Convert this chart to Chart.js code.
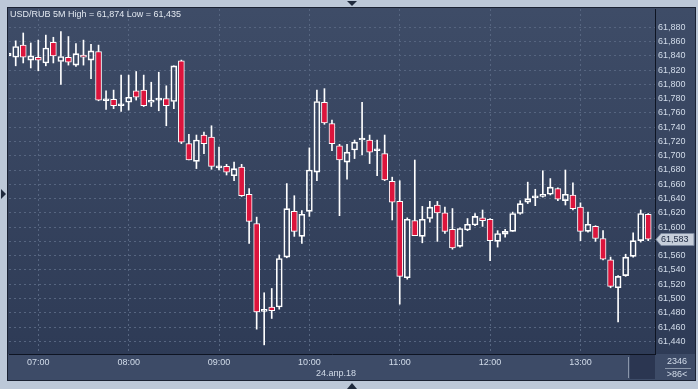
<!DOCTYPE html>
<html>
<head>
<meta charset="utf-8">
<script src="https://cdn.jsdelivr.net/npm/chart.js@4.4.1/dist/chart.umd.min.js"></script>
<style>
html, body { margin: 0; padding: 0; background: #bcc8d8; }
canvas { display: block; }
</style>
</head>
<body>
<canvas id="usdrub" width="698" height="389"></canvas>
<script>
// USD/RUB 5M, 24.апр.18
const times = [
    "06:40", "06:45", "06:50", "06:55",
    "07:00", "07:05", "07:10", "07:15", "07:20", "07:25", "07:30", "07:35", "07:40", "07:45", "07:50", "07:55",
    "08:00", "08:05", "08:10", "08:15", "08:20", "08:25", "08:30", "08:35", "08:40", "08:45", "08:50", "08:55",
    "09:00", "09:05", "09:10", "09:15", "09:20", "09:25", "09:30", "09:35", "09:40", "09:45", "09:50", "09:55",
    "10:00", "10:05", "10:10", "10:15", "10:20", "10:25", "10:30", "10:35", "10:40", "10:45", "10:50", "10:55",
    "11:00", "11:05", "11:10", "11:15", "11:20", "11:25", "11:30", "11:35", "11:40", "11:45", "11:50", "11:55",
    "12:00", "12:05", "12:10", "12:15", "12:20", "12:25", "12:30", "12:35", "12:40", "12:45", "12:50", "12:55",
    "13:00", "13:05", "13:10", "13:15", "13:20", "13:25", "13:30", "13:35", "13:40", "13:45",
];
const opens = [
    61.840, 61.838, 61.855, 61.834, 61.838, 61.830, 61.859, 61.832, 61.838, 61.827, 61.841, 61.834, 61.846, 61.777, 61.779, 61.770,
    61.775, 61.791, 61.792, 61.775, 61.778, 61.780, 61.776, 61.833, 61.717, 61.692, 61.729, 61.726, 61.683, 61.685, 61.672, 61.684,
    61.646, 61.605, 61.482, 61.488, 61.488, 61.558, 61.622, 61.587, 61.622, 61.677, 61.775, 61.745, 61.714, 61.691, 61.708, 61.722,
    61.722, 61.707, 61.703, 61.664, 61.636, 61.529, 61.609, 61.587, 61.612, 61.631, 61.620, 61.597, 61.573, 61.596, 61.603, 61.613,
    61.611, 61.580, 61.590, 61.594, 61.619, 61.635, 61.641, 61.643, 61.646, 61.654, 61.637, 61.645, 61.628, 61.594, 61.601, 61.584,
    61.554, 61.515, 61.532, 61.559, 61.581, 61.618,
];
const highs = [
    61.846, 61.861, 61.872, 61.858, 61.862, 61.869, 61.866, 61.874, 61.867, 61.857, 61.862, 61.856, 61.855, 61.791, 61.792, 61.813,
    61.813, 61.818, 61.813, 61.803, 61.817, 61.798, 61.826, 61.834, 61.730, 61.729, 61.733, 61.742, 61.712, 61.688, 61.691, 61.688,
    61.654, 61.614, 61.508, 61.514, 61.561, 61.661, 61.644, 61.623, 61.711, 61.792, 61.794, 61.750, 61.716, 61.716, 61.722, 61.775,
    61.729, 61.722, 61.729, 61.670, 61.665, 61.613, 61.694, 61.629, 61.636, 61.636, 61.628, 61.626, 61.599, 61.612, 61.619, 61.624,
    61.612, 61.595, 61.597, 61.621, 61.637, 61.663, 61.653, 61.679, 61.668, 61.655, 61.680, 61.662, 61.634, 61.621, 61.602, 61.595,
    61.558, 61.532, 61.562, 61.592, 61.624, 61.619,
];
const lows = [
    61.836, 61.826, 61.830, 61.823, 61.819, 61.826, 61.830, 61.800, 61.827, 61.825, 61.827, 61.808, 61.777, 61.765, 61.766, 61.762,
    61.764, 61.778, 61.769, 61.769, 61.763, 61.742, 61.766, 61.717, 61.694, 61.682, 61.703, 61.681, 61.680, 61.673, 61.665, 61.643,
    61.577, 61.457, 61.435, 61.472, 61.485, 61.557, 61.587, 61.577, 61.615, 61.665, 61.744, 61.707, 61.616, 61.667, 61.696, 61.701,
    61.689, 61.672, 61.665, 61.610, 61.492, 61.527, 61.588, 61.578, 61.607, 61.580, 61.591, 61.569, 61.572, 61.595, 61.602, 61.601,
    61.553, 61.572, 61.586, 61.594, 61.618, 61.633, 61.630, 61.642, 61.645, 61.637, 61.631, 61.624, 61.581, 61.593, 61.580, 61.554,
    61.515, 61.467, 61.531, 61.558, 61.579, 61.581,
];
const closes = [
    61.844, 61.853, 61.838, 61.840, 61.834, 61.851, 61.840, 61.839, 61.831, 61.843, 61.838, 61.847, 61.778, 61.778, 61.770, 61.771,
    61.782, 61.782, 61.770, 61.778, 61.778, 61.770, 61.826, 61.719, 61.694, 61.722, 61.717, 61.685, 61.683, 61.677, 61.682, 61.644,
    61.608, 61.481, 61.482, 61.483, 61.556, 61.626, 61.594, 61.618, 61.680, 61.776, 61.746, 61.717, 61.694, 61.705, 61.719, 61.724,
    61.705, 61.707, 61.666, 61.635, 61.531, 61.611, 61.588, 61.611, 61.628, 61.620, 61.594, 61.571, 61.598, 61.604, 61.615, 61.609,
    61.581, 61.591, 61.594, 61.619, 61.633, 61.640, 61.641, 61.645, 61.656, 61.639, 61.646, 61.626, 61.594, 61.604, 61.584, 61.555,
    61.517, 61.531, 61.558, 61.581, 61.619, 61.583,
];
const xTickLabels = ["07:00", "08:00", "09:00", "10:00", "11:00", "12:00", "13:00"];
const yTicks = [
    61.44, 61.46, 61.48, 61.50, 61.52, 61.54, 61.56, 61.58, 61.60, 61.62, 61.64, 61.66,
    61.68, 61.70, 61.72, 61.74, 61.76, 61.78, 61.80, 61.82, 61.84, 61.86, 61.88,
];

const TEXT = "#d2dcea";
const FONT = { family: "Liberation Sans", size: 9 };
const fmt = (v) => v.toFixed(3).replace(".", ",");

// тело свечи и тени
const bodies = times.map((t, i) => ({ x: i, y: [opens[i], closes[i]] }));
const upperWicks = times.map((t, i) => ({ x: i, y: [Math.max(opens[i], closes[i]), highs[i]] }));
const lowerWicks = times.map((t, i) => ({ x: i, y: [lows[i], Math.min(opens[i], closes[i])] }));
const bodyFill = times.map((t, i) => (closes[i] < opens[i] ? "rgb(220, 20, 60)" : "rgba(0, 0, 0, 0)"));

const panels = {
    id: "panels",
    beforeDraw(chart) {
        const { ctx, chartArea: a } = chart;
        ctx.save();
        ctx.fillStyle = "#bcc8d8";
        ctx.fillRect(0, 0, chart.width, chart.height);
        const g = ctx.createLinearGradient(0, a.top, 0, a.bottom);
        g.addColorStop(0, "#3e4c67");
        g.addColorStop(1, "#2e3b56");
        ctx.fillStyle = g;
        ctx.fillRect(8, 8, 688, a.bottom - 8);
        ctx.fillStyle = "#3d4b67";
        ctx.fillRect(8, a.bottom, 688, 381 - a.bottom);
        ctx.fillStyle = "#2b3651";
        ctx.fillRect(630, a.bottom + 1, a.right - 630, 24);
        ctx.fillStyle = "#8a96aa";
        ctx.fillRect(628, a.bottom + 3, 1, 21);
        ctx.restore();
    },
    afterDraw(chart) {
        const { ctx, chartArea: a, scales } = chart;
        ctx.save();
        // заголовок
        ctx.font = "9px 'Liberation Sans'";
        ctx.fillStyle = "#e2e8f0";
        ctx.textBaseline = "middle";
        ctx.textAlign = "left";
        ctx.fillText("USD/RUB 5M High = " + fmt(Math.max(...highs)) + " Low = " + fmt(Math.min(...lows)), 10, 15);

        // дата
        ctx.fillStyle = TEXT;
        ctx.textAlign = "center";
        ctx.fillText("24.апр.18", 336, 374);

        // счетчики
        ctx.fillText("2346", 677, 362);
        ctx.fillText(">" + times.length + "<", 677, 375);
        ctx.fillStyle = "#8a96aa";
        ctx.fillRect(665, 368, 26, 1);

        // текущая цена
        const last = closes[closes.length - 1];
        const py = Math.round(scales.y.getPixelForValue(last)) + 0.5;
        ctx.beginPath();
        ctx.moveTo(656, py);
        ctx.lineTo(661, py - 6);
        ctx.lineTo(694, py - 6);
        ctx.lineTo(694, py + 6);
        ctx.lineTo(661, py + 6);
        ctx.closePath();
        ctx.fillStyle = "#c6ceda";
        ctx.fill();
        ctx.strokeStyle = "#7d8aa0";
        ctx.lineWidth = 1;
        ctx.stroke();
        ctx.fillStyle = "#1c2840";
        ctx.textAlign = "left";
        ctx.fillText(fmt(last), 661, py);

        // рамка
        ctx.strokeStyle = "#1a2233";
        ctx.strokeRect(7.5, 7.5, 688, 373);

        // маркеры
        ctx.fillStyle = "#1f2a3d";
        ctx.beginPath();
        ctx.moveTo(347, 1); ctx.lineTo(357, 1); ctx.lineTo(352, 6);
        ctx.fill();
        ctx.beginPath();
        ctx.moveTo(347, 389); ctx.lineTo(357, 389); ctx.lineTo(352, 383);
        ctx.fill();
        ctx.beginPath();
        ctx.moveTo(1, 189); ctx.lineTo(1, 199); ctx.lineTo(6, 194);
        ctx.fill();
        ctx.restore();
    },
};

new Chart(document.getElementById("usdrub"), {
    type: "bar",
    data: {
        datasets: [
            {
                label: "body",
                data: bodies,
                backgroundColor: bodyFill,
                borderColor: "#ffffff",
                borderWidth: 1,
                borderSkipped: false,
                barThickness: 6,
                minBarLength: 2,
                grouped: false,
                clip: 0,
                order: 1,
            },
            {
                label: "upper",
                data: upperWicks,
                backgroundColor: "#ffffff",
                borderWidth: 0,
                barThickness: 1,
                grouped: false,
                clip: 0,
                order: 2,
            },
            {
                label: "lower",
                data: lowerWicks,
                backgroundColor: "#ffffff",
                borderWidth: 0,
                barThickness: 1,
                grouped: false,
                clip: 0,
                order: 2,
            },
        ],
    },
    options: {
        responsive: false,
        animation: false,
        layout: { padding: { left: 9, top: 9, right: 3, bottom: 8 } },
        plugins: {
            legend: { display: false },
            tooltip: { enabled: false },
        },
        scales: {
            x: {
                type: "linear",
                offset: false,
                min: 0.109,
                max: 85.9,
                afterBuildTicks: (axis) => {
                    axis.ticks = xTickLabels.map((l) => ({ value: times.indexOf(l) }));
                },
                afterFit: (axis) => {
                    axis.height = 27;
                },
                grid: { color: "#566580", drawTicks: false, offset: false },
                border: { color: "#0e1422", dash: [2, 3] },
                ticks: {
                    color: TEXT,
                    font: FONT,
                    padding: 3,
                    autoSkip: false,
                    maxRotation: 0,
                    callback: (value) => times[value],
                },
            },
            y: {
                position: "right",
                min: 61.4222,
                max: 61.9056,
                afterBuildTicks: (axis) => {
                    axis.ticks = yTicks.map((v) => ({ value: v }));
                },
                afterFit: (axis) => {
                    axis.width = 40;
                },
                grid: { color: "#566580", drawTicks: false },
                border: { color: "#0e1422", dash: [2, 3] },
                ticks: {
                    color: TEXT,
                    font: FONT,
                    padding: 3,
                    callback: (value) => fmt(value),
                },
            },
        },
    },
    plugins: [panels],
});
</script>
</body>
</html>
